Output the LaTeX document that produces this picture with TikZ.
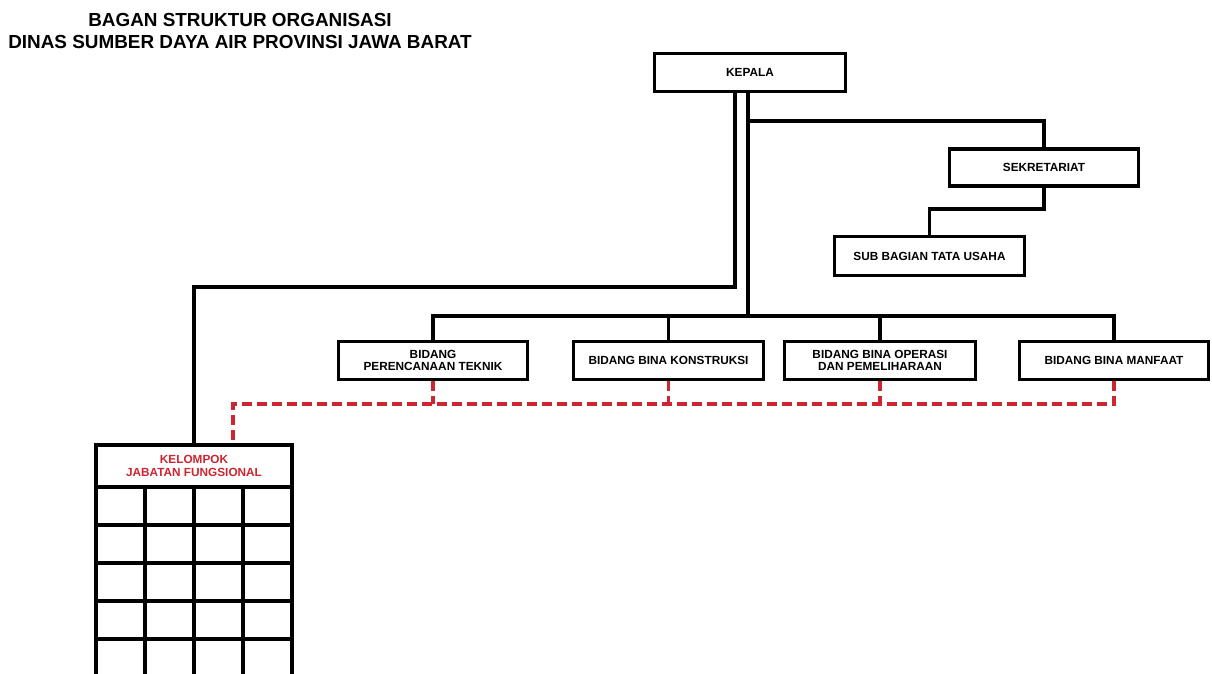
\documentclass[tikz,border=0pt]{standalone}
\usepackage{fontspec}
\setmainfont{Liberation Sans}
\definecolor{dred}{RGB}{205,38,48}
\begin{document}
\begin{tikzpicture}[x=1pt,y=-1pt,
  conn/.style={line width=3.5pt,black},
  rconn/.style={line width=3.4pt,dred,dash pattern=on 10pt off 5pt},
  orgbox/.style={draw,line width=3.8pt,fill=white,inner sep=0pt,align=center,
    font=\bfseries\fontsize{11.8}{12.5}\selectfont},
  ttl/.style={inner sep=0pt,align=center,font=\bfseries\fontsize{18.9}{22}\selectfont}]
\useasboundingbox (0,0) rectangle (1212,673);
\clip (0,0) rectangle (1212,673);
\fill[white] (0,0) rectangle (1212,673);
% title
\node[ttl] (title) at (240,31) {BAGAN STRUKTUR ORGANISASI\\DINAS SUMBER DAYA AIR PROVINSI JAWA BARAT};
% coordinates
\coordinate (lturn) at (735,287);
\coordinate (lcorner) at (194,287);
\coordinate (trunk) at (748,121);
\coordinate (bus) at (0,316);
\coordinate (sk) at (0,209);
\coordinate (rb) at (0,404);
\coordinate (rleft) at (233,404);
% boxes
\node[orgbox,minimum width=191pt,minimum height=38pt] (kepala) at (750,72.5) {KEPALA};
\node[orgbox,minimum width=189pt,minimum height=37pt] (sek) at (1044,167.5) {SEKRETARIAT};
\node[orgbox,minimum width=190pt,minimum height=39pt] (sub) at (929.5,256) {SUB BAGIAN TATA USAHA};
\node[orgbox,minimum width=189pt,minimum height=38pt] (b1) at (433,360.5) {BIDANG\\PERENCANAAN TEKNIK};
\node[orgbox,minimum width=190pt,minimum height=38pt] (b2) at (668.5,360.5) {BIDANG BINA KONSTRUKSI};
\node[orgbox,minimum width=191pt,minimum height=38pt] (b3) at (880,360.5) {BIDANG BINA OPERASI\\DAN PEMELIHARAAN};
\node[orgbox,minimum width=189pt,minimum height=38pt] (b4) at (1114,360.5) {BIDANG BINA MANFAAT};
\node[orgbox,minimum width=196pt,minimum height=42pt,text=dred] (kel) at (194,466) {KELOMPOK\\JABATAN FUNGSIONAL};
% black connectors
\draw[conn] (kepala.south -| lturn) -- (lturn) -- (lcorner) -- (kel.north -| lcorner);
\draw[conn] (kepala.south -| trunk) -- (trunk |- bus);
\draw[conn] (trunk) -| (sek.north);
\draw[conn] (sek.south) -- (sek.south |- sk) -| (sub.north);
\draw[conn] (b1.north) |- (b4.north |- bus) -- (b4.north);
\draw[conn] (b2.north) -- (b2.north |- bus);
\draw[conn] (b3.north) -- (b3.north |- bus);
% red dashed connectors
\draw[rconn] (b4.south) -- (b4.south |- rb) -- (rleft) -- (kel.north -| rleft);
\draw[rconn] (b1.south) -- (b1.south |- rb);
\draw[rconn] (b2.south) -- (b2.south |- rb);
\draw[rconn] (b3.south) -- (b3.south |- rb);
% grid under KELOMPOK
\foreach \gx in {96,145,194,243,292} \draw[conn,line width=3.8pt] (\gx,487) -- (\gx,690);
\foreach \gy in {525,563,601,639,677} \draw[conn,line width=3.8pt] (94,\gy) -- (294,\gy);
\end{tikzpicture}
\end{document}
